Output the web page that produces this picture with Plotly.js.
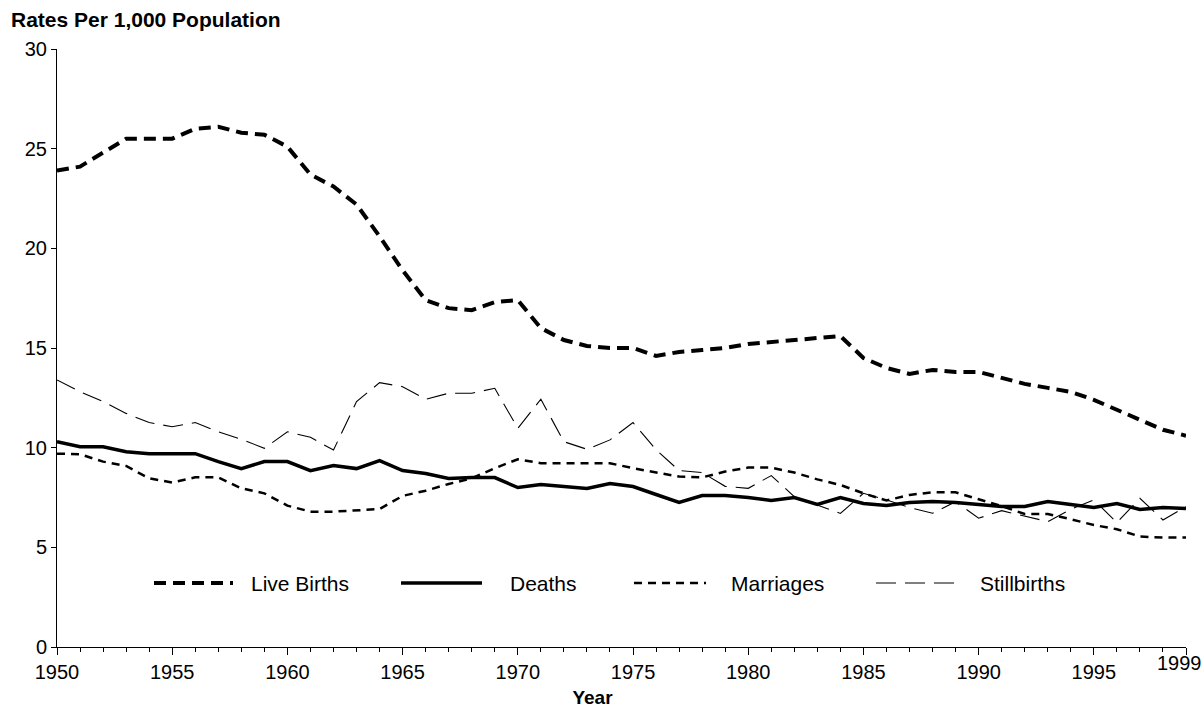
<!DOCTYPE html>
<html>
<head>
<meta charset="utf-8">
<script src="https://cdn.plot.ly/plotly-3.0.1.min.js"></script>
<style>html,body{margin:0;padding:0;background:#fff;}#chart{width:1204px;height:709px;}</style>
</head>
<body>
<div id="chart"></div>
<script>
const years = [1950,1951,1952,1953,1954,1955,1956,1957,1958,1959,
               1960,1961,1962,1963,1964,1965,1966,1967,1968,1969,
               1970,1971,1972,1973,1974,1975,1976,1977,1978,1979,
               1980,1981,1982,1983,1984,1985,1986,1987,1988,1989,
               1990,1991,1992,1993,1994,1995,1996,1997,1998,1999];

const liveBirths = [23.9,24.1,24.8,25.5,25.5,25.5,26.0,26.1,25.8,25.7,
                    25.1,23.7,23.1,22.2,20.6,18.9,17.4,17.0,16.9,17.3,
                    17.4,16.0,15.4,15.1,15.0,15.0,14.6,14.8,14.9,15.0,
                    15.2,15.3,15.4,15.5,15.6,14.5,14.0,13.7,13.9,13.8,
                    13.8,13.5,13.2,13.0,12.8,12.4,11.9,11.4,10.9,10.6];

const deaths = [10.3,10.05,10.05,9.8,9.7,9.7,9.7,9.3,8.95,9.3,
                9.3,8.85,9.1,8.95,9.35,8.85,8.7,8.45,8.5,8.5,
                8.0,8.15,8.05,7.95,8.2,8.05,7.65,7.25,7.6,7.6,
                7.5,7.35,7.5,7.15,7.5,7.2,7.1,7.25,7.3,7.25,
                7.15,7.05,7.05,7.3,7.15,7.0,7.2,6.9,7.0,6.95];

const marriages = [9.7,9.67,9.3,9.08,8.46,8.25,8.51,8.51,7.96,7.71,
                   7.09,6.79,6.79,6.84,6.92,7.58,7.84,8.18,8.46,8.97,
                   9.42,9.22,9.22,9.22,9.22,8.97,8.75,8.55,8.51,8.8,
                   9.0,9.0,8.75,8.41,8.13,7.71,7.35,7.63,7.76,7.76,
                   7.41,7.07,6.67,6.67,6.41,6.12,5.91,5.54,5.49,5.49];

const stillbirths = [13.4,12.81,12.31,11.72,11.26,11.05,11.26,10.8,10.42,9.97,
                     10.8,10.52,9.88,12.31,13.26,13.06,12.43,12.73,12.73,12.98,
                     10.97,12.43,10.3,9.92,10.39,11.26,9.9,8.85,8.75,8.06,
                     7.96,8.6,7.54,7.1,6.7,7.71,7.38,7.0,6.71,7.29,
                     6.46,6.84,6.57,6.29,6.91,7.38,6.24,7.46,6.37,7.04];

const seriesNames = ["Live Births","Deaths","Marriages","Stillbirths"];
const xTickVals = [1950,1955,1960,1965,1970,1975,1980,1985,1990,1995,1999];
const xTickText = ["1950","1955","1960","1965","1970","1975","1980","1985","1990","1995",""];
const lastYearLabel = "1999";
const yTickVals = [0,5,10,15,20,25,30];

const styles = [
  {width:4, dash:"12px,7px"},
  {width:3.5, dash:"solid"},
  {width:2.5, dash:"8px,6px"},
  {width:1.1, dash:"20px,9px"}
];
const seriesData = [liveBirths, deaths, marriages, stillbirths];

const traces = seriesData.map((ys, i) => ({
  x: years, y: ys, type: "scatter", mode: "lines", name: seriesNames[i],
  line: {color: "#000", width: styles[i].width, dash: styles[i].dash},
  showlegend: false, hoverinfo: "x+y+name"
}));

// custom legend (placed in paper coordinates, computed from pixel layout)
const L = 57, R = 1186, T = 49, B = 647;
const px2x = p => (p - L) / (R - L);
const py2y = p => (B - p) / (B - T);
const legendY = py2y(583);
const legendSamples = [[154,233,249],[401,482,508],[634,706,729],[876,954,978]];
const shapes = [];
const annotations = [];
legendSamples.forEach((s, i) => {
  shapes.push({type:"line", xref:"paper", yref:"paper",
    x0:px2x(s[0]), x1:px2x(s[1]), y0:legendY, y1:legendY,
    line:{color:"#000", width:styles[i].width, dash:styles[i].dash}});
  annotations.push({xref:"paper", yref:"paper", x:px2x(s[2]), y:legendY,
    xanchor:"left", yanchor:"middle", showarrow:false, text:seriesNames[i],
    font:{family:"Arial, Liberation Sans, sans-serif", size:21, color:"#000"}});
});
// last tick label, shifted left and raised as in the original
annotations.push({xref:"paper", yref:"paper", x:px2x(1204), y:py2y(663),
  xanchor:"right", yanchor:"middle", showarrow:false, text:lastYearLabel,
  font:{family:"Arial, Liberation Sans, sans-serif", size:20, color:"#000"}});

const pad = "&nbsp;".repeat(11);

const layout = {
  width: 1204, height: 709,
  paper_bgcolor: "#fff", plot_bgcolor: "#fff",
  margin: {l: L, r: 1204 - R, t: T, b: 709 - B},
  font: {family: "Arial, Liberation Sans, sans-serif", color: "#000", size: 20},
  title: {text: "<b>Rates Per 1,000 Population</b>", x: 11/1204, xanchor: "left",
          y: 1 - 20/709, yanchor: "middle", xref: "container", yref: "container",
          font: {size: 21, color: "#000"}},
  xaxis: {
    range: [1950, 1999], tickmode: "array", tickvals: xTickVals, ticktext: xTickText,
    ticks: "outside", ticklen: 7, tickwidth: 1, tickcolor: "#000",
    showline: true, linecolor: "#000", linewidth: 1, showgrid: false, zeroline: false,
    tickfont: {size: 20},
    minor: {tickmode: "linear", tick0: 1950, dtick: 1, ticks: "outside", ticklen: 4, tickcolor: "#000", showgrid: false},
    title: {text: "<b>Year</b>" + pad, font: {size: 19}, standoff: 8}
  },
  yaxis: {
    range: [0, 30], tickmode: "array", tickvals: yTickVals,
    ticks: "outside", ticklen: 5, tickwidth: 1, tickcolor: "#000",
    showline: true, linecolor: "#000", linewidth: 1, showgrid: false, zeroline: false,
    tickfont: {size: 20}
  },
  shapes: shapes,
  annotations: annotations,
  showlegend: false
};

Plotly.newPlot("chart", traces, layout, {displayModeBar: false, staticPlot: true});
</script>
</body>
</html>
